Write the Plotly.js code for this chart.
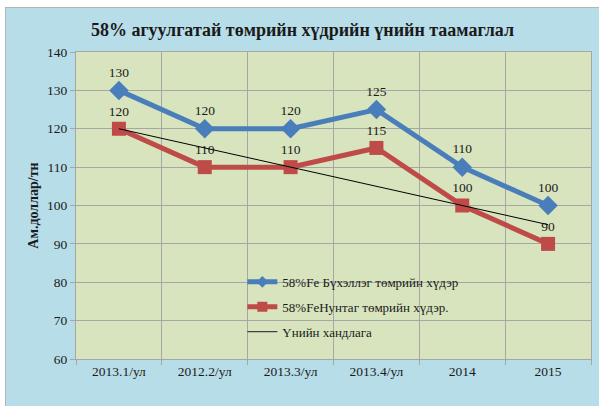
<!DOCTYPE html>
<html>
<head>
<meta charset="utf-8">
<script src="https://cdn.plot.ly/plotly-3.0.1.min.js"></script>
<style>
html,body{margin:0;padding:0;background:#ffffff;width:599px;height:406px;overflow:hidden;}
#frame{position:absolute;left:5px;top:7px;width:594px;height:399px;border-left:1px solid #b4b4b4;border-top:1px solid #b4b4b4;background:#b7dde8;}
#chart{width:593px;height:398px;}
</style>
</head>
<body>
<div id="frame"><div id="chart"></div></div>
<script>
var categories = ["2013.1/ул", "2012.2/ул", "2013.3/ул", "2013.4/ул", "2014", "2015"];
var lumpValues = [130, 120, 120, 125, 110, 100];
var fineValues = [120, 110, 110, 115, 100, 90];
var trendCategories = ["2013.1/ул", "2015"];
var trendValues = [120, 95];
var seriesNames = ["58%Fe Бүхэллэг төмрийн хүдэр", "58%FeНунтаг төмрийн хүдэр.", "Үнийн хандлага"];
var titleText = "58% агуулгатай төмрийн хүдрийн үнийн таамаглал";
var yTitle = "Ам.доллар/тн";

var serif = "'Liberation Serif', 'Times New Roman', 'DejaVu Serif', serif";
var blue = "#4a7ebb", red = "#be4b48";
var lblFont = {family: serif, size: 13.5, color: "#1a1a1a"};

var traces = [
  {
    x: categories, y: lumpValues, name: seriesNames[0], type: "scatter", mode: "lines+markers+text",
    showlegend: false,
    line: {color: blue, width: 5},
    marker: {symbol: "diamond", size: 15, color: blue},
    text: lumpValues.map(String), textposition: "top center",
    textfont: lblFont, cliponaxis: false
  },
  {
    x: categories, y: fineValues, name: seriesNames[1], type: "scatter", mode: "lines+markers+text",
    showlegend: false,
    line: {color: red, width: 5},
    marker: {symbol: "square", size: 14, color: red},
    text: fineValues.map(String), textposition: "top center",
    textfont: lblFont, cliponaxis: false
  },
  {
    x: trendCategories, y: trendValues, name: seriesNames[2], type: "scatter", mode: "lines",
    showlegend: false,
    line: {color: "#000000", width: 1}
  },
  // legend keys (no data points; only the legend swatches)
  {x: [null], y: [null], name: seriesNames[0], type: "scatter", mode: "lines+markers", legendgroup: "a",
   line: {color: blue, width: 5}, marker: {symbol: "diamond", size: 9, color: blue}},
  {x: [null], y: [null], name: seriesNames[1], type: "scatter", mode: "lines+markers", legendgroup: "b",
   line: {color: red, width: 5}, marker: {symbol: "square", size: 10, color: red}},
  {x: [null], y: [null], name: seriesNames[2], type: "scatter", mode: "lines", legendgroup: "c",
   line: {color: "#404040", width: 1.2}}
];

var layout = {
  width: 593, height: 398,
  margin: {l: 70, r: 8, t: 44, b: 47},
  paper_bgcolor: "#b7dde8",
  plot_bgcolor: "#d7e4bd",
  font: {family: serif, size: 13.5, color: "#1a1a1a"},
  title: {text: "<b>" + titleText + "</b>", font: {family: serif, size: 18, color: "#1a1a1a"}, x: 0.5, xanchor: "center", y: 0.945, yanchor: "middle"},
  xaxis: {
    type: "category", categoryorder: "array", categoryarray: categories,
    range: [-0.5, 5.5], tickson: "boundaries",
    showgrid: true, gridcolor: "#a6a6a6", gridwidth: 1,
    showline: true, linecolor: "#a6a6a6", linewidth: 1, mirror: true,
    ticks: "outside", ticklen: 5, tickcolor: "#a6a6a6",
    tickfont: {family: serif, size: 13.5, color: "#1a1a1a"},
    fixedrange: true
  },
  yaxis: {
    range: [60, 140], dtick: 10, tick0: 60,
    showgrid: true, gridcolor: "#a6a6a6", gridwidth: 1,
    showline: true, linecolor: "#a6a6a6", linewidth: 1, mirror: true,
    ticks: "outside", ticklen: 5, tickcolor: "#a6a6a6",
    tickfont: {family: serif, size: 13.5, color: "#1a1a1a"},
    zeroline: false,
    title: {text: "<b>" + yTitle + "</b>", font: {family: serif, size: 14, color: "#1a1a1a"}, standoff: 5},
    fixedrange: true
  },
  showlegend: true,
  legend: {
    x: 0.323, y: 0.30, xanchor: "left", yanchor: "top",
    bgcolor: "rgba(0,0,0,0)", borderwidth: 0,
    font: {family: serif, size: 13, color: "#1a1a1a"},
    itemwidth: 30, tracegroupgap: 5, traceorder: "grouped"
  }
};

Plotly.newPlot("chart", traces, layout, {displayModeBar: false, staticPlot: true});
</script>
</body>
</html>
